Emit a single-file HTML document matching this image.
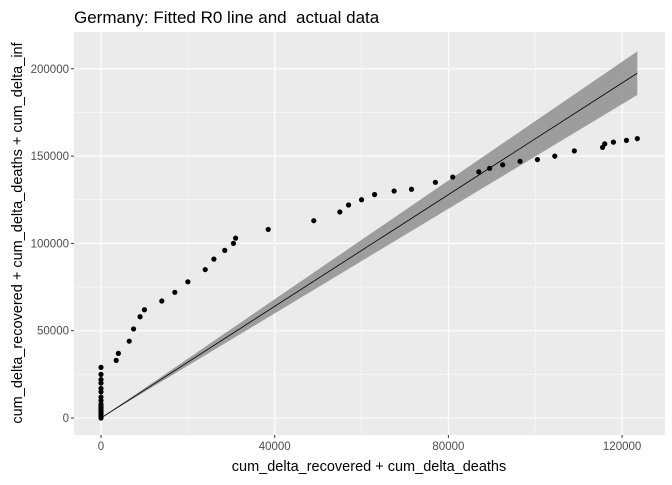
<!DOCTYPE html>
<html><head><meta charset="utf-8"><style>
body{margin:0;background:#fff;}
text{font-family:"Liberation Sans",Arial,sans-serif;}
</style></head><body>
<svg id="chart" width="672" height="480" xmlns="http://www.w3.org/2000/svg">
<rect x="0" y="0" width="672" height="480" fill="#fff"/>
<text x="74" y="23" font-size="17" fill="#000" style="white-space:pre">Germany: Fitted R0 line and  actual data</text>
<rect x="74" y="32" width="591" height="403" fill="#ebebeb"/>
<g id="grid"></g>
<g id="ribbon"></g>
<g id="pts"></g>
<g id="axes"></g>
<text x="369" y="471" font-size="14.5" text-anchor="middle" fill="#000">cum_delta_recovered + cum_delta_deaths</text>
<text transform="translate(22,233) rotate(-90)" font-size="14.5" text-anchor="middle" fill="#000">cum_delta_recovered + cum_delta_deaths + cum_delta_inf</text>
</svg>
<script>
const xTicks=[0,40000,80000,120000];
const xTickLabels=["0","40000","80000","120000"];
const yTicks=[0,50000,100000,150000,200000];
const yTickLabels=["0","50000","100000","150000","200000"];
const fitX=[0,123500];
const fitY=[0,197500];
const fitLo=[0,185000];
const fitHi=[0,210000];
const ptX=[0,0,0,0,0,0,0,0,0,0,0,0,0,0,0,0,0,3500,4000,6500,7500,9000,10000,14000,17000,20000,24000,26000,28500,30500,31000,38500,49000,55000,57000,60000,63000,67500,71500,77000,81000,87000,89500,92500,96500,100500,104500,109000,115500,116000,118000,121000,123500];
const ptY=[0,1000,2000,3000,4000,5000,6000,7000,8000,10000,12000,15000,17000,20000,22000,25000,29000,33000,37000,44000,51000,58000,62000,67000,72000,78000,85000,91000,96000,100000,103000,108000,113000,118000,122000,125000,128000,130000,131000,135000,138000,141000,143000,145000,147000,148000,150000,153000,155000,157000,158000,159000,160000];
const NS="http://www.w3.org/2000/svg";
const X=v=>101+v*173.7/40000;
const Y=v=>418-v*87.3/50000;
function mk(tag,attrs,parent){const e=document.createElementNS(NS,tag);for(const k in attrs)e.setAttribute(k,attrs[k]);document.getElementById(parent).appendChild(e);return e;}
for(let i=0;i<xTicks.length;i++){
  const m=mk('line',{x1:X(xTicks[i]),x2:X(xTicks[i]),y1:32,y2:435,stroke:'#fff','stroke-width':1.1},'grid');
  
  
  if(i<xTicks.length-1){const mid=(xTicks[i]+xTicks[i+1])/2;
    const n=mk('line',{x1:X(mid),x2:X(mid),y1:32,y2:435,stroke:'#fff','stroke-width':0.5},'grid');
    
    }
  const t=mk('line',{x1:X(xTicks[i]),x2:X(xTicks[i]),y1:435,y2:438,stroke:'#333'},'axes');
  
  
  const l=mk('text',{x:X(xTicks[i]),y:450,'font-size':11.5,'text-anchor':'middle',fill:'#4d4d4d'},'axes');
  l.textContent=xTickLabels[i];
  
  
}
for(let i=0;i<yTicks.length;i++){
  const m=mk('line',{x1:74,x2:665,y1:Y(yTicks[i]),y2:Y(yTicks[i]),stroke:'#fff','stroke-width':1.1},'grid');
  
  
  if(i<yTicks.length-1){const mid=(yTicks[i]+yTicks[i+1])/2;
    const n=mk('line',{x1:74,x2:665,y1:Y(mid),y2:Y(mid),stroke:'#fff','stroke-width':0.5},'grid');
    
    }
  const t=mk('line',{x1:71,x2:74,y1:Y(yTicks[i]),y2:Y(yTicks[i]),stroke:'#333'},'axes');
  
  
  const l=mk('text',{x:69,y:Y(yTicks[i])+4,'font-size':11.5,'text-anchor':'end',fill:'#4d4d4d'},'axes');
  l.textContent=yTickLabels[i];
  
  
}
let d='M'+fitX.map((x,i)=>X(x)+','+Y(fitHi[i])).join(' L')+' L'+fitX.slice().reverse().map((x,i)=>X(x)+','+Y(fitLo[fitX.length-1-i])).join(' L')+'Z';
const rb=mk('path',{d:d,fill:'#999','fill-opacity':0.95},'ribbon');


const ln=mk('polyline',{points:fitX.map((x,i)=>X(x)+','+Y(fitY[i])).join(' '),fill:'none',stroke:'#000','stroke-width':0.8},'ribbon');


for(let i=0;i<ptX.length;i++){
  const c=mk('circle',{cx:X(ptX[i]),cy:Y(ptY[i]),r:2.6,fill:'#000'},'pts');
  
  
}
</script>
</body></html>
